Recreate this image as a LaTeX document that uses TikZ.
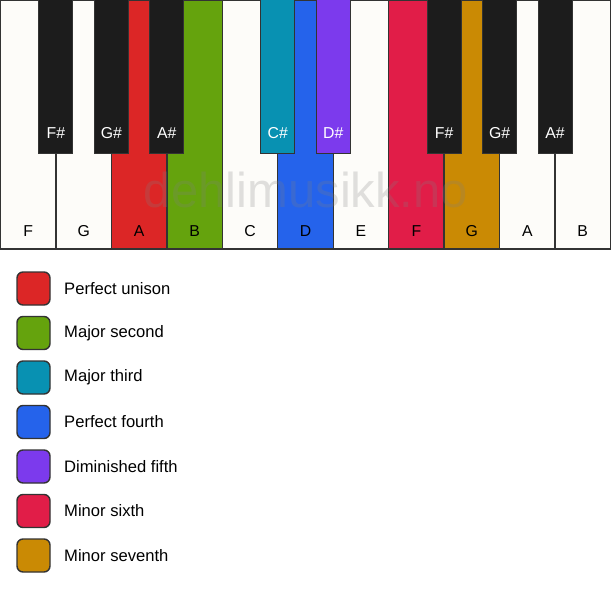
\documentclass[tikz,border=0pt]{standalone}
\usepackage{fontspec}
\setmainfont{Liberation Sans}
\definecolor{wkey}{HTML}{FDFCF9}
\definecolor{bkey}{HTML}{1C1C1C}
\definecolor{edge}{HTML}{333333}
\definecolor{cA}{HTML}{DC2626}
\definecolor{cB}{HTML}{65A30D}
\definecolor{cCs}{HTML}{0891B2}
\definecolor{cD}{HTML}{2563EB}
\definecolor{cDs}{HTML}{7C3AED}
\definecolor{cF}{HTML}{E11D48}
\definecolor{cG}{HTML}{CA8A04}
\tikzset{
  whitekey/.style={draw=edge, line width=1.4pt},
  blackkey/.style={draw=edge, line width=1pt},
  wlabel/.style={font=\fontsize{15.8}{16}\selectfont, text=black, anchor=base},
  blabel/.style={font=\fontsize{15.8}{16}\selectfont, text=white, anchor=base},
  swatch/.style={draw=edge, line width=1.4pt, rounded corners=6pt, minimum width=33pt, minimum height=33pt, inner sep=0pt},
  legtext/.style={font=\fontsize{16.6}{17}\selectfont, anchor=west, inner sep=0pt}
}
\begin{document}
\begin{tikzpicture}[x=1pt,y=-1pt]
\useasboundingbox (0,0) rectangle (611,594);
\fill[white] (0,0) rectangle (611,594);
% white keys
\foreach \i/\n/\c in {0/F/wkey,1/G/wkey,2/A/cA,3/B/cB,4/C/wkey,5/D/cD,6/E/wkey,7/F/cF,8/G/cG,9/A/wkey,10/B/wkey}{
  \path[whitekey, fill=\c] ({0.5+\i*55.45},0.5) rectangle ({0.5+(\i+1)*55.45},249);
  \node[wlabel] (w\i) at ({0.5+(\i+0.5)*55.45},236) {\n};
}
% watermark
\node[font=\fontsize{49}{49}\selectfont, text=gray, opacity=0.24, anchor=base] (wm) at (306,207) {dehlimusikk.no};
% black keys
\foreach \i/\n/\c in {1/F\#/bkey,2/G\#/bkey,3/A\#/bkey,5/C\#/cCs,6/D\#/cDs,8/F\#/bkey,9/G\#/bkey,10/A\#/bkey}{
  \path[blackkey, fill=\c] ({0.5+\i*55.45-17},0) rectangle ({0.5+\i*55.45+17},153);
  \node[blabel] (b\i) at ({0.5+\i*55.45},139) {\n};
}
% legend
\foreach \k/\c/\t in {0/cA/Perfect unison,1/cB/Major second,2/cCs/Major third,3/cD/Perfect fourth,4/cDs/Diminished fifth,5/cF/Minor sixth,6/cG/Minor seventh}{
  \node[swatch, fill=\c] (s\k) at (33.5,{288.5+\k*44.5}) {};
  \node[legtext] (t\k) at (64,{288.5+\k*44.5}) {\t};
}
\end{tikzpicture}
\end{document}
